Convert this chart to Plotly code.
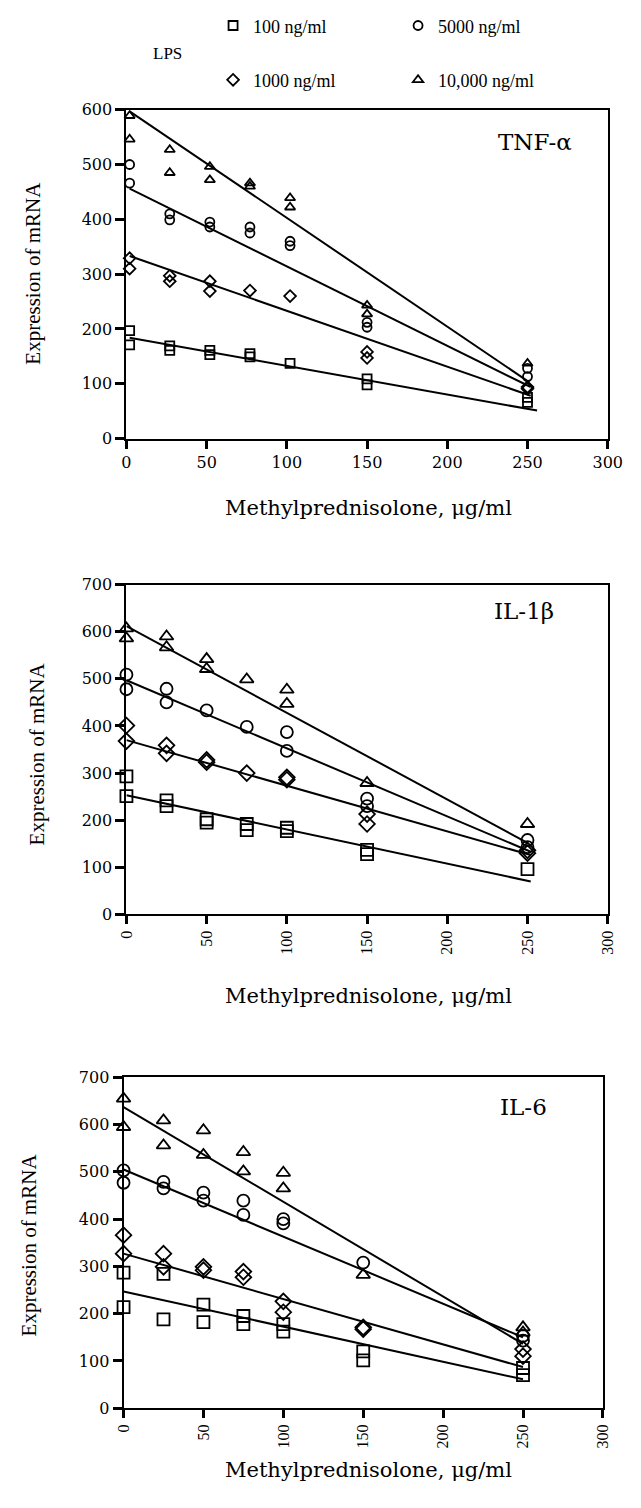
import plotly.graph_objects as go

W, H = 641, 1508

# ---------------- data ----------------
SERIES = ["100 ng/ml", "1000 ng/ml", "5000 ng/ml", "10,000 ng/ml"]
SYMBOLS = ["square-open", "diamond-open", "circle-open", "triangle-up-open"]
X_TICKS = [0, 50, 100, 150, 200, 250, 300]

# Panel 1: TNF-alpha
tnf_sq_x = [2, 2, 27, 27, 52, 52, 77, 77, 102, 150, 150, 250, 250]
tnf_sq_y = [197, 171, 169, 161, 161, 153, 155, 149, 137, 109, 98, 75, 66]
tnf_di_x = [2, 2, 27, 27, 52, 52, 77, 102, 150, 150, 250, 250]
tnf_di_y = [329, 310, 297, 287, 287, 269, 270, 260, 158, 147, 94, 91]
tnf_ci_x = [2, 2, 27, 27, 52, 52, 77, 77, 102, 102, 150, 150, 250, 250]
tnf_ci_y = [500, 466, 410, 399, 395, 386, 386, 375, 360, 352, 212, 203, 128, 113]
tnf_tr_x = [2, 2, 27, 27, 52, 52, 77, 77, 102, 102, 150, 150, 250]
tnf_tr_y = [589, 546, 527, 485, 496, 472, 466, 460, 439, 422, 243, 227, 137]
tnf_fit_x = [[2, 256], [2, 252], [2, 252], [2, 251]]
tnf_fit_y = [[184, 51], [333, 78], [456, 94], [597, 103]]

# Panel 2: IL-1beta
il1_sq_x = [0, 0, 25, 25, 50, 50, 75, 75, 100, 100, 150, 150, 250]
il1_sq_y = [293, 251, 242, 230, 202, 195, 192, 179, 184, 177, 137, 128, 96]
il1_di_x = [0, 0, 25, 25, 50, 50, 75, 100, 100, 150, 150, 250, 250]
il1_di_y = [401, 368, 359, 342, 328, 323, 300, 291, 286, 213, 192, 136, 130]
il1_ci_x = [0, 0, 25, 25, 50, 75, 100, 100, 150, 150, 250, 250]
il1_ci_y = [509, 478, 479, 450, 433, 398, 387, 347, 246, 230, 158, 143]
il1_tr_x = [0, 0, 25, 25, 50, 50, 75, 100, 100, 150, 250]
il1_tr_y = [607, 586, 590, 567, 542, 521, 499, 477, 447, 279, 192]
il1_fit_x = [[0, 252], [0, 252], [0, 252], [0, 250]]
il1_fit_y = [[253, 70], [370, 126], [497, 133], [612, 152]]

# Panel 3: IL-6
il6_sq_x = [0, 0, 25, 25, 50, 50, 75, 75, 100, 100, 150, 150, 250, 250]
il6_sq_y = [287, 214, 284, 188, 219, 182, 195, 178, 178, 162, 120, 101, 85, 70]
il6_di_x = [0, 0, 25, 25, 50, 50, 75, 75, 100, 100, 150, 150, 250, 250]
il6_di_y = [366, 327, 327, 299, 299, 292, 289, 277, 226, 203, 171, 167, 125, 110]
il6_ci_x = [0, 0, 25, 25, 50, 50, 75, 75, 100, 100, 150, 250, 250]
il6_ci_y = [503, 477, 479, 465, 456, 439, 439, 409, 400, 391, 308, 153, 143]
il6_tr_x = [0, 0, 25, 25, 50, 50, 75, 75, 100, 100, 150, 250, 250]
il6_tr_y = [655, 595, 609, 556, 588, 536, 542, 501, 498, 465, 282, 171, 160]
il6_fit_x = [[0, 250], [0, 250], [0, 250], [0, 250]]
il6_fit_y = [[247, 61], [327, 87], [505, 150], [637, 136]]

PANELS = [
    dict(label="TNF-α", ymax=600,
         pts=[(tnf_sq_x, tnf_sq_y), (tnf_di_x, tnf_di_y), (tnf_ci_x, tnf_ci_y), (tnf_tr_x, tnf_tr_y)],
         fx=tnf_fit_x, fy=tnf_fit_y),
    dict(label="IL-1β", ymax=700,
         pts=[(il1_sq_x, il1_sq_y), (il1_di_x, il1_di_y), (il1_ci_x, il1_ci_y), (il1_tr_x, il1_tr_y)],
         fx=il1_fit_x, fy=il1_fit_y),
    dict(label="IL-6", ymax=700,
         pts=[(il6_sq_x, il6_sq_y), (il6_di_x, il6_di_y), (il6_ci_x, il6_ci_y), (il6_tr_x, il6_tr_y)],
         fx=il6_fit_x, fy=il6_fit_y),
]

# ---------------- layout geometry (pixels) ----------------
PLOT_BOX = [  # left, right, top, bottom
    (122, 622, 102, 435),
    (122, 622, 583, 917),
    (119, 617, 1082, 1417),
]
MARKER_SIZE = [9, 12, 12]
TICK_ANGLE = [0, -90, -90]
YTITLE_POS = [(25, 268), (29, 754), (21, 1252)]
XTITLE_POS = [(374, 505), (374, 1000), (373, 1480)]
LABEL_POS = [(546, 135), (535, 610), (535, 1112)]
LEGEND_ORDER = [0, 2, 1, 3]  # row 1: 100, 5000 ; row 2: 1000, 10,000

SERIF_WIDE = "DejaVu Serif"
SERIF = "Liberation Serif"

def px(x):
    return x / W

def py(y):
    return 1 - y / H

fig = go.Figure()
layout = dict(
    width=W, height=H, autosize=False,
    margin=dict(l=0, r=0, t=0, b=0),
    paper_bgcolor="white", plot_bgcolor="white",
    annotations=[],
)

for i, p in enumerate(PANELS):
    n = "" if i == 0 else str(i + 1)
    xa, ya = "x" + n, "y" + n
    l, r, t, b = PLOT_BOX[i]
    for s in range(4):
        xs, ys = p["pts"][s]
        fig.add_trace(go.Scatter(
            x=xs, y=ys, mode="markers", xaxis=xa, yaxis=ya,
            name=SERIES[s],
            showlegend=(i == 0),
            legend=("legend" if s in (0, 2) else "legend2"),
            legendrank=LEGEND_ORDER.index(s),
            marker=dict(symbol=SYMBOLS[s], size=MARKER_SIZE[i], color="black",
                        line=dict(width=1.8, color="black")),
            cliponaxis=False,
        ))
        fig.add_trace(go.Scatter(
            x=p["fx"][s], y=p["fy"][s], mode="lines", xaxis=xa, yaxis=ya,
            showlegend=False, line=dict(color="black", width=2),
            hoverinfo="skip",
        ))
    axis_common = dict(
        showline=True, linecolor="black", linewidth=2, mirror=True,
        ticks="outside", tickwidth=2.5, tickcolor="black",
        showgrid=False, zeroline=False,
    )
    layout["xaxis" + n] = dict(
        axis_common, domain=[px(l), px(r)], anchor=ya, range=[0, 300],
        tickvals=X_TICKS, ticklen=8, tickangle=TICK_ANGLE[i],
        tickfont=dict(family=SERIF_WIDE if i == 0 else SERIF,
                      size=16 if i == 0 else 16, color="black"),
    )
    layout["yaxis" + n] = dict(
        axis_common, domain=[py(b), py(t)], anchor=xa, range=[0, p["ymax"]],
        dtick=100, ticklen=9,
        tickfont=dict(family=SERIF_WIDE, size=16, color="black"),
    )
    layout["annotations"].append(dict(
        text="Expression of mRNA", x=px(YTITLE_POS[i][0]), y=py(YTITLE_POS[i][1]),
        xref="paper", yref="paper", showarrow=False, textangle=-90,
        xanchor="center", yanchor="middle",
        font=dict(family=SERIF, size=21, color="black"),
    ))
    layout["annotations"].append(dict(
        text="Methylprednisolone, μg/ml", x=px(XTITLE_POS[i][0]), y=py(XTITLE_POS[i][1]),
        xref="paper", yref="paper", showarrow=False,
        xanchor="center", yanchor="middle",
        font=dict(family=SERIF_WIDE, size=21, color="black"),
    ))
    layout["annotations"].append(dict(
        text=p["label"], x=px(LABEL_POS[i][0]), y=py(LABEL_POS[i][1]),
        xref="paper", yref="paper", showarrow=False,
        xanchor="center", yanchor="middle",
        font=dict(family=SERIF_WIDE, size=23, color="black"),
    ))

layout["annotations"].append(dict(
    text="LPS", x=px(165), y=py(45), xref="paper", yref="paper", showarrow=False,
    xanchor="center", yanchor="middle", font=dict(family=SERIF, size=17, color="black"),
))

legend_common = dict(
    orientation="h", xanchor="left", yanchor="middle",
    font=dict(family=SERIF, size=18, color="black"),
    bgcolor="rgba(0,0,0,0)", entrywidth=140, entrywidthmode="pixels",
    itemclick=False, itemdoubleclick=False,
)
layout["legend"] = dict(legend_common, x=px(212), y=py(17))
layout["legend2"] = dict(legend_common, x=px(212), y=py(72))

fig.update_layout(**layout)
fig.write_html("out.html")
